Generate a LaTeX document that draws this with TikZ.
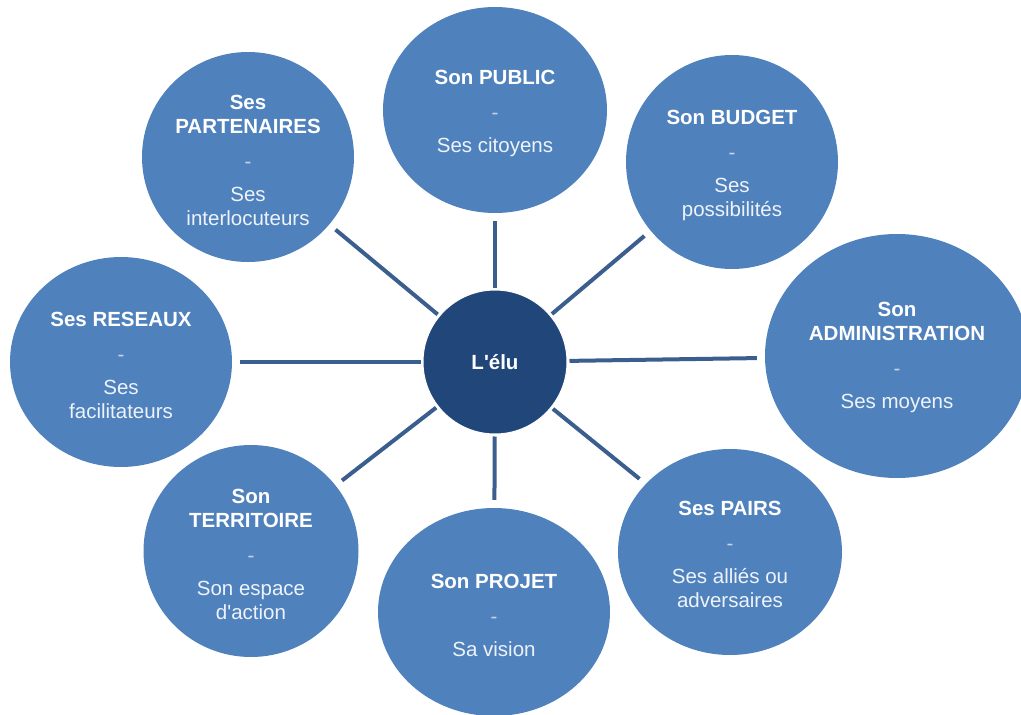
\documentclass[tikz,border=0pt]{standalone}
\usepackage{fontspec}
\setmainfont{Liberation Sans}[Ligatures=TeXOff]
\usetikzlibrary{shapes.geometric}
\definecolor{outerc}{HTML}{4F81BD}
\definecolor{centerc}{HTML}{21477A}
\definecolor{linec}{HTML}{3A5F8E}
\definecolor{dashc}{HTML}{C9D5E4}
\definecolor{subc}{HTML}{EEF3FA}
\tikzset{
  outer/.style={ellipse, fill=outerc, inner sep=0pt},
  txt/.style={align=center, text=white, inner sep=0pt, font=\fontsize{20.5}{24}\selectfont},
  hub/.style={circle, fill=centerc, draw=white, line width=1pt, minimum size=144pt, inner sep=0pt,
    text=white, font=\fontsize{20.5}{24}\selectfont\bfseries},
  link/.style={draw=linec, line width=4pt, shorten <=2pt, shorten >=8pt},
}
\newcommand{\dsh}{\\[11pt]{\color{dashc}-}\\[9pt]}
\newcommand{\sub}[1]{{\color{subc}#1}}
\begin{document}
\begin{tikzpicture}[x=1pt,y=-1pt]
\useasboundingbox (0,0) rectangle (1021,715);
\node[hub] (c) at (495,362) {L'élu};
\node[outer, minimum width=224pt, minimum height=206pt] (pub) at (495,110) {};
\node[outer, minimum width=212pt, minimum height=214pt] (bud) at (732,162) {};
\node[outer, minimum width=264pt, minimum height=244pt] (adm) at (897,356) {};
\node[outer, minimum width=224pt, minimum height=206pt] (pai) at (730,552) {};
\node[outer, minimum width=232pt, minimum height=208pt] (pro) at (494,612) {};
\node[outer, minimum width=215pt, minimum height=212pt] (ter) at (251,551) {};
\node[outer, minimum width=222pt, minimum height=210pt] (res) at (121,362) {};
\node[outer, minimum width=212pt, minimum height=210pt] (par) at (248,157) {};
\node[txt] (tpub) at ([yshift=-3pt]pub.center) {\textbf{Son PUBLIC}\dsh\sub{Ses citoyens}};
\node[txt] (tbud) at ([yshift=-3pt]bud.center) {\textbf{Son BUDGET}\dsh\sub{Ses}\\\sub{possibilités}};
\node[txt] (tadm) at ([yshift=-1pt]adm.center) {\textbf{Son}\\\textbf{ADMINISTRATION}\dsh\sub{Ses moyens}};
\node[txt] (tpai) at ([yshift=-2pt]pai.center) {\textbf{Ses PAIRS}\dsh\sub{Ses alliés ou}\\\sub{adversaires}};
\node[txt] (tpro) at ([yshift=-3pt]pro.center) {\textbf{Son PROJET}\dsh\sub{Sa vision}};
\node[txt] (tter) at ([yshift=-3pt]ter.center) {\textbf{Son}\\\textbf{TERRITOIRE}\dsh\sub{Son espace}\\\sub{d'action}};
\node[txt] (tres) at ([yshift=-3pt]res.center) {\textbf{Ses RESEAUX}\dsh\sub{Ses}\\\sub{facilitateurs}};
\node[txt] (tpar) at ([yshift=-3pt]par.center) {\textbf{Ses}\\\textbf{PARTENAIRES}\dsh\sub{Ses}\\\sub{interlocuteurs}};
\foreach \n in {pub,bud,adm,pai,pro,ter,res,par}
  \draw[link] (c) -- (\n);
\end{tikzpicture}
\end{document}
